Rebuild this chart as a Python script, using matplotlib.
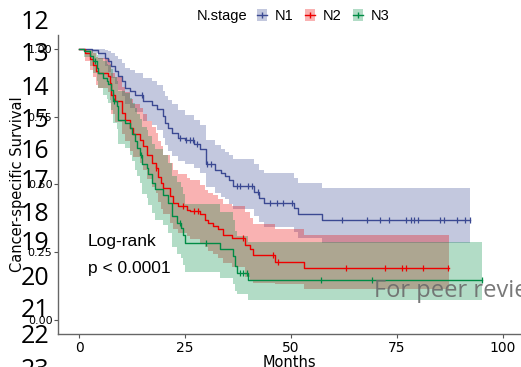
import matplotlib
matplotlib.use("Agg")
import matplotlib.pyplot as plt
from matplotlib.lines import Line2D
from matplotlib.patches import Patch

# ---- data (Kaplan-Meier steps, 95% CI) ----
groups = ["N1", "N2", "N3"]
colors = ["#3B4992", "#EE0000", "#008B45"]

n1_time = [0, 3.0, 4.5, 6.1, 6.8, 7.5, 8.4, 9.2, 10.0, 10.8, 12.0, 13.2, 15.0, 17.1, 18.3,
           19.8, 20.2, 21.0, 21.8, 23.4, 25.0, 27.0, 28.5, 29.9, 32.0, 33.4, 34.4, 35.4,
           36.2, 41.3, 42.5, 43.7, 50.8, 51.7, 57.2, 92.3]
n1_surv = [1.0, 0.995, 0.984, 0.966, 0.953, 0.935, 0.917, 0.898, 0.880, 0.855, 0.843, 0.831,
           0.806, 0.794, 0.776, 0.751, 0.727, 0.708, 0.690, 0.672, 0.662, 0.650, 0.631, 0.577,
           0.555, 0.543, 0.533, 0.515, 0.494, 0.472, 0.451, 0.433, 0.414, 0.393, 0.369, 0.369]
n1_upper = [1.0, 1.0, 1.0, 0.995, 0.99, 0.982, 0.972, 0.96, 0.948, 0.93, 0.92, 0.91, 0.89,
            0.88, 0.865, 0.845, 0.825, 0.81, 0.795, 0.775, 0.757, 0.739, 0.72, 0.665, 0.647,
            0.629, 0.62, 0.61, 0.592, 0.574, 0.555, 0.543, 0.525, 0.506, 0.488, 0.488]
n1_lower = [1.0, 0.985, 0.962, 0.935, 0.915, 0.893, 0.87, 0.847, 0.825, 0.795, 0.78, 0.765,
            0.735, 0.72, 0.70, 0.672, 0.645, 0.625, 0.605, 0.586, 0.575, 0.562, 0.543, 0.49,
            0.467, 0.455, 0.445, 0.43, 0.41, 0.385, 0.362, 0.345, 0.325, 0.303, 0.283, 0.283]
n1_cens = [14.8, 23.8, 25.2, 26.2, 26.9, 27.9, 30.1, 31.0, 37.2, 37.9, 39.9, 40.7, 42.3,
           45.0, 46.6, 48.2, 50.2, 62, 68, 71, 73.2, 77.1, 78.3, 79, 80, 85.2, 86.1, 89.1,
           91.1, 92.3]

n2_time = [0, 1.4, 2.5, 3.3, 3.9, 4.5, 6.8, 7.2, 7.6, 8.5, 10.0, 10.8, 12.0, 12.7, 14.3,
           15.1, 15.9, 17.1, 18.0, 18.7, 19.2, 19.8, 21.4, 22.2, 23.4, 25.4, 26.1, 28.5,
           29.7, 30.5, 31.6, 32.8, 34.0, 36.0, 39.1, 40.3, 41.1, 46.2, 53.1, 87.4]
n2_surv = [1.0, 0.984, 0.960, 0.941, 0.917, 0.910, 0.898, 0.874, 0.830, 0.806, 0.763, 0.739,
           0.708, 0.684, 0.665, 0.641, 0.610, 0.580, 0.561, 0.528, 0.506, 0.488, 0.457,
           0.433, 0.420, 0.408, 0.402, 0.390, 0.371, 0.359, 0.347, 0.335, 0.316, 0.304,
           0.279, 0.261, 0.239, 0.216, 0.191, 0.191]
n2_upper = [1.0, 1.0, 0.995, 0.985, 0.97, 0.965, 0.96, 0.945, 0.91, 0.895, 0.86, 0.84, 0.815,
            0.795, 0.78, 0.76, 0.735, 0.71, 0.69, 0.66, 0.64, 0.61, 0.58, 0.555, 0.54,
            0.525, 0.515, 0.50, 0.48, 0.47, 0.46, 0.445, 0.43, 0.42, 0.40, 0.375, 0.355,
            0.335, 0.316, 0.316]
n2_lower = [1.0, 0.955, 0.92, 0.895, 0.865, 0.855, 0.84, 0.81, 0.76, 0.73, 0.685, 0.66,
            0.625, 0.60, 0.58, 0.555, 0.52, 0.49, 0.47, 0.435, 0.41, 0.39, 0.36, 0.335, 0.32,
            0.31, 0.30, 0.285, 0.27, 0.255, 0.245, 0.23, 0.21, 0.195, 0.16, 0.145, 0.139,
            0.135, 0.117, 0.117]
n2_cens = [8.0, 18.0, 24.6, 27.0, 28.1, 38.7, 45.8, 47.0, 63, 72.2, 76.1, 77.1, 81.2, 87.1]

n3_time = [0, 1.0, 2.5, 3.3, 4.2, 4.5, 5.7, 6.5, 6.8, 7.6, 8.0, 8.8, 9.1, 10.8, 12.0, 12.4,
           13.2, 13.6, 14.3, 14.7, 15.9, 16.3, 17.1, 17.9, 19.8, 21.0, 21.8, 23.0, 24.0,
           24.6, 25.0, 33.2, 36.4, 36.8, 37.2, 39.9, 95.2]
n3_surv = [1.0, 0.99, 0.972, 0.953, 0.93, 0.910, 0.892, 0.880, 0.868, 0.849, 0.806, 0.788,
           0.739, 0.727, 0.708, 0.684, 0.659, 0.635, 0.610, 0.574, 0.561, 0.537, 0.506,
           0.482, 0.463, 0.433, 0.383, 0.359, 0.341, 0.316, 0.286, 0.261, 0.236, 0.200,
           0.175, 0.148, 0.148]
n3_upper = [1.0, 1.0, 0.995, 0.985, 0.975, 0.965, 0.955, 0.945, 0.94, 0.925, 0.895, 0.88,
            0.845, 0.835, 0.82, 0.80, 0.78, 0.76, 0.74, 0.71, 0.70, 0.68, 0.65, 0.63, 0.61,
            0.58, 0.53, 0.51, 0.49, 0.465, 0.43, 0.40, 0.37, 0.33, 0.31, 0.289, 0.289]
n3_lower = [1.0, 0.97, 0.935, 0.91, 0.88, 0.855, 0.83, 0.815, 0.80, 0.775, 0.725, 0.705,
            0.65, 0.635, 0.61, 0.585, 0.555, 0.53, 0.505, 0.465, 0.45, 0.425, 0.395, 0.37,
            0.35, 0.32, 0.27, 0.245, 0.23, 0.205, 0.178, 0.155, 0.135, 0.11, 0.096, 0.075,
            0.075]
n3_cens = [3.6, 8.1, 14.6, 23.8, 30.0, 37.9, 38.7, 39.5, 57, 69, 95.2]

x_ticks = [0, 25, 50, 75, 100]
y_ticks = [0.0, 0.25, 0.5, 0.75, 1.0]
y_ticklabels = ["0.00", "0.25", "0.50", "0.75", "1.00"]

# manuscript line numbers down the left margin (label, baseline px from top)
line_numbers = ["12", "13", "14", "15", "16", "17", "18", "19", "20", "21", "22", "23"]
line_number_y = [29, 61, 95, 127, 158, 188, 221, 250, 285, 317, 343, 377]

W, H = 521, 367
fig = plt.figure(figsize=(W / 100, H / 100), dpi=100)
ax = fig.add_axes([58 / W, 1 - 334 / H, 463 / W, 299 / H])

plt.rcParams["font.family"] = ["Liberation Sans", "DejaVu Sans"]

series = [
    (n1_time, n1_surv, n1_upper, n1_lower, n1_cens),
    (n2_time, n2_surv, n2_upper, n2_lower, n2_cens),
    (n3_time, n3_surv, n3_upper, n3_lower, n3_cens),
]

# bands first (N1, N2, N3 order as in ggplot), then lines
for (t, s, u, l, c), col in zip(series, colors):
    ax.fill_between(t, l, u, step="post", color=col, alpha=0.3, linewidth=0)

for (t, s, u, l, c), col in zip(series, colors):
    ax.step(t, s, where="post", color=col, linewidth=1.0)
    # censor marks sit on the survival level in force at that time
    cy = []
    for ct in c:
        level = s[0]
        for ti, si in zip(t, s):
            if ti <= ct:
                level = si
        cy.append(level)
    ax.plot(c, cy, linestyle="none", marker="|", markersize=4.5,
            markeredgewidth=0.9, color=col)

ax.set_xlim(-5.03, 104.3)
ax.set_ylim(-0.05, 1.05)
ax.set_xticks(x_ticks)
ax.set_yticks(y_ticks)
ax.set_yticklabels(y_ticklabels)
ax.tick_params(axis="x", labelsize=10, length=3, color="#555555", pad=2)
ax.tick_params(axis="y", labelsize=8, length=3, color="#555555", pad=1)
for side in ["top", "right"]:
    ax.spines[side].set_visible(False)
for side in ["left", "bottom"]:
    ax.spines[side].set_color("#666666")
    ax.spines[side].set_linewidth(1.0)
ax.set_xlabel("Months", fontsize=10.5, labelpad=0)
ax.set_ylabel("Cancer-specific Survival", fontsize=10.5, labelpad=2)

ax.text(2, 0.272, "Log-rank", fontsize=12.5, va="baseline")
ax.text(2, 0.176, "p < 0.0001", fontsize=12.5, va="baseline")

# legend across the top
handles = [
    (Patch(facecolor=col, alpha=0.3, edgecolor="none"),
     Line2D([], [], color=col, linewidth=1.0, marker="|", markersize=4.5))
    for col in colors
]
fig.text(197 / W, 1 - 16 / H, "N.stage", fontsize=10.5, va="center", ha="left")
fig.legend(handles, groups, loc="center left", bbox_to_anchor=(257 / W, 1 - 16 / H),
           ncol=3, frameon=False, fontsize=10.5, handlelength=0.7, handleheight=0.9,
           handletextpad=0.55, columnspacing=0.75, borderpad=0, borderaxespad=0)

# page artefacts: line numbers and the watermark
for lab, yp in zip(line_numbers, line_number_y):
    fig.text(35 / W, 1 - yp / H, lab, fontsize=18, ha="center", va="baseline",
             family=["Open Sans", "DejaVu Sans"], color="black")
fig.text(374 / W, 1 - 297 / H, "For peer review", fontsize=17, ha="left", va="baseline",
         family=["Open Sans", "DejaVu Sans"], color="#6b6b6b", alpha=0.9)

fig.savefig("out.png", dpi=100)
